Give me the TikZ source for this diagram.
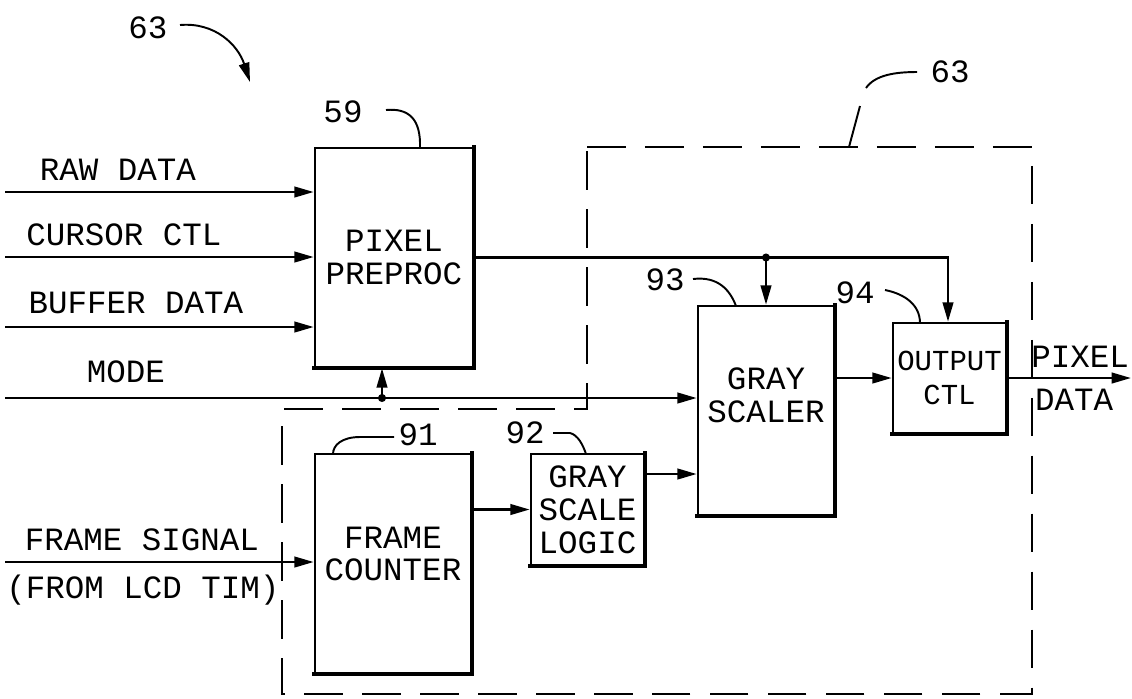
\documentclass[tikz,border=0pt]{standalone}
\usepackage{fontspec}
\newfontfamily\draftfont{Liberation Mono}
\usetikzlibrary{arrows.meta}

\begin{document}
\begin{tikzpicture}[x=0.02cm, y=-0.02cm, >={Triangle[length=11pt,width=6pt]},
  blk/.style={draw, line width=1.5pt, inner sep=0pt},
  txt/.style={font=\draftfont\fontsize{18.5}{18.7}\selectfont, align=center, inner sep=0pt},
  sig/.style={line width=1.4pt},
  lead/.style={line width=1.1pt},
  bound/.style={line width=1.2pt, dash pattern=on 22pt off 11pt}]
  \useasboundingbox (0,0) rectangle (1132,698);

  % Dashed boundary 63
  \draw[bound] (587,147) -- (1032,147) -- (1032,694) -- (282,694) -- (282,409) -- (587,409) -- cycle;

  % Blocks
  \node[blk, txt, minimum width=3.16cm, minimum height=4.38cm] (pre) at (394,257.5) {PIXEL\\PREPROC};
  \node[blk, minimum width=3.12cm, minimum height=4.38cm] (fc) at (393,563.5) {};
  \node[txt] (fcT) at (393,554) {FRAME\\COUNTER};
  \node[blk, txt, minimum width=2.26cm, minimum height=2.22cm] (gsl) at (587.5,509.5) {GRAY\\SCALE\\LOGIC};
  \node[blk, minimum width=2.72cm, minimum height=4.18cm] (gs) at (766,410.5) {};
  \node[txt] (gsT) at (766,395) {GRAY\\SCALER};
  \node[blk, txt, font=\draftfont\fontsize{16.5}{19.5}\selectfont, minimum width=2.26cm, minimum height=2.2cm] (oc) at (949.5,378) {OUTPUT\\CTL};

  % Heavier right and bottom edges
  \foreach \b in {pre,fc,gsl,gs,oc}
    \draw[line width=2.4pt, line cap=rect] (\b.north east) -- (\b.south east) -- (\b.south west);

  % Inputs
  \coordinate (rawIn) at (5,192);
  \coordinate (curIn) at (5,257);
  \coordinate (bufIn) at (5,327);
  \coordinate (modeIn) at (5,398);
  \coordinate (frmIn) at (5,562);
  \draw[sig,->] (rawIn) -- (rawIn -| pre.west);
  \draw[sig,->] (curIn) -- (curIn -| pre.west);
  \draw[sig,->] (bufIn) -- (bufIn -| pre.west);
  \draw[sig,->] (modeIn) -- (modeIn -| gs.west);
  \draw[sig,->] (frmIn) -- (frmIn -| fc.west);
  \node[txt] (rawL) at (118,170) {RAW DATA};
  \node[txt] (curL) at (124,235) {CURSOR CTL};
  \node[txt] (bufL) at (136,303) {BUFFER DATA};
  \node[txt] (modeL) at (126,372) {MODE};
  \node[txt] (frmL) at (142,540) {FRAME SIGNAL};
  \node[txt] (frmL2) at (143,590) {(FROM LCD TIM)};

  % Mode tap into preprocessor
  \coordinate (modeJ) at (382,398);
  \fill (modeJ) circle (2.3pt);
  \draw[sig,->] (modeJ) -- (modeJ |- pre.south);

  % Preprocessor output bus
  \coordinate (busJ) at (766,257.5);
  \coordinate (busE) at (948,257.5);
  \draw[sig,->] (pre.east) -- (busE) -- (busE |- oc.north);
  \fill (busJ) circle (2.3pt);
  \draw[sig,->] (busJ) -- (gs.north);

  % Internal paths
  \draw[sig,->] (fc.east |- gsl.west) -- (gsl.west);
  \coordinate (logOut) at (644,474);
  \draw[sig,->] (logOut) -- (logOut -| gs.west);
  \draw[sig,->] (gs.east |- oc.west) -- (oc.west);
  \coordinate (pixOut) at (1131,378);
  \draw[sig,->] (oc.east) -- (pixOut);
  \node[txt] (pixL) at (1080,357) {PIXEL};
  \node[txt] (datL) at (1074,400) {DATA};

  % Reference numerals
  \node[txt] (n63a) at (148,28) {63};
  \draw[lead,->] (180,25) .. controls (215,22) and (238,45) .. (250,82);
  \node[txt] (n63b) at (950,72) {63};
  \draw[lead] (917,72) .. controls (895,72) and (875,75) .. (866,88);
  \draw[lead] (860,106) -- (849,147);
  \node[txt] (n59) at (343,112) {59};
  \draw[lead] (386,110) .. controls (408,108) and (421,118) .. (420,148);
  \node[txt] (n91) at (418,435) {91};
  \draw[lead] (394,437) -- (360,437) .. controls (342,437) and (333,445) .. (333,454);
  \node[txt] (n92) at (525,433) {92};
  \draw[lead] (553,433) -- (570,433) .. controls (578,435) and (583,445) .. (586,454);
  \node[txt] (n93) at (665,280) {93};
  \draw[lead] (693,279) .. controls (718,276) and (730,290) .. (736,306);
  \node[txt] (n94) at (855,293) {94};
  \draw[lead] (885,290) .. controls (905,294) and (920,305) .. (920,323);
\end{tikzpicture}
\end{document}
